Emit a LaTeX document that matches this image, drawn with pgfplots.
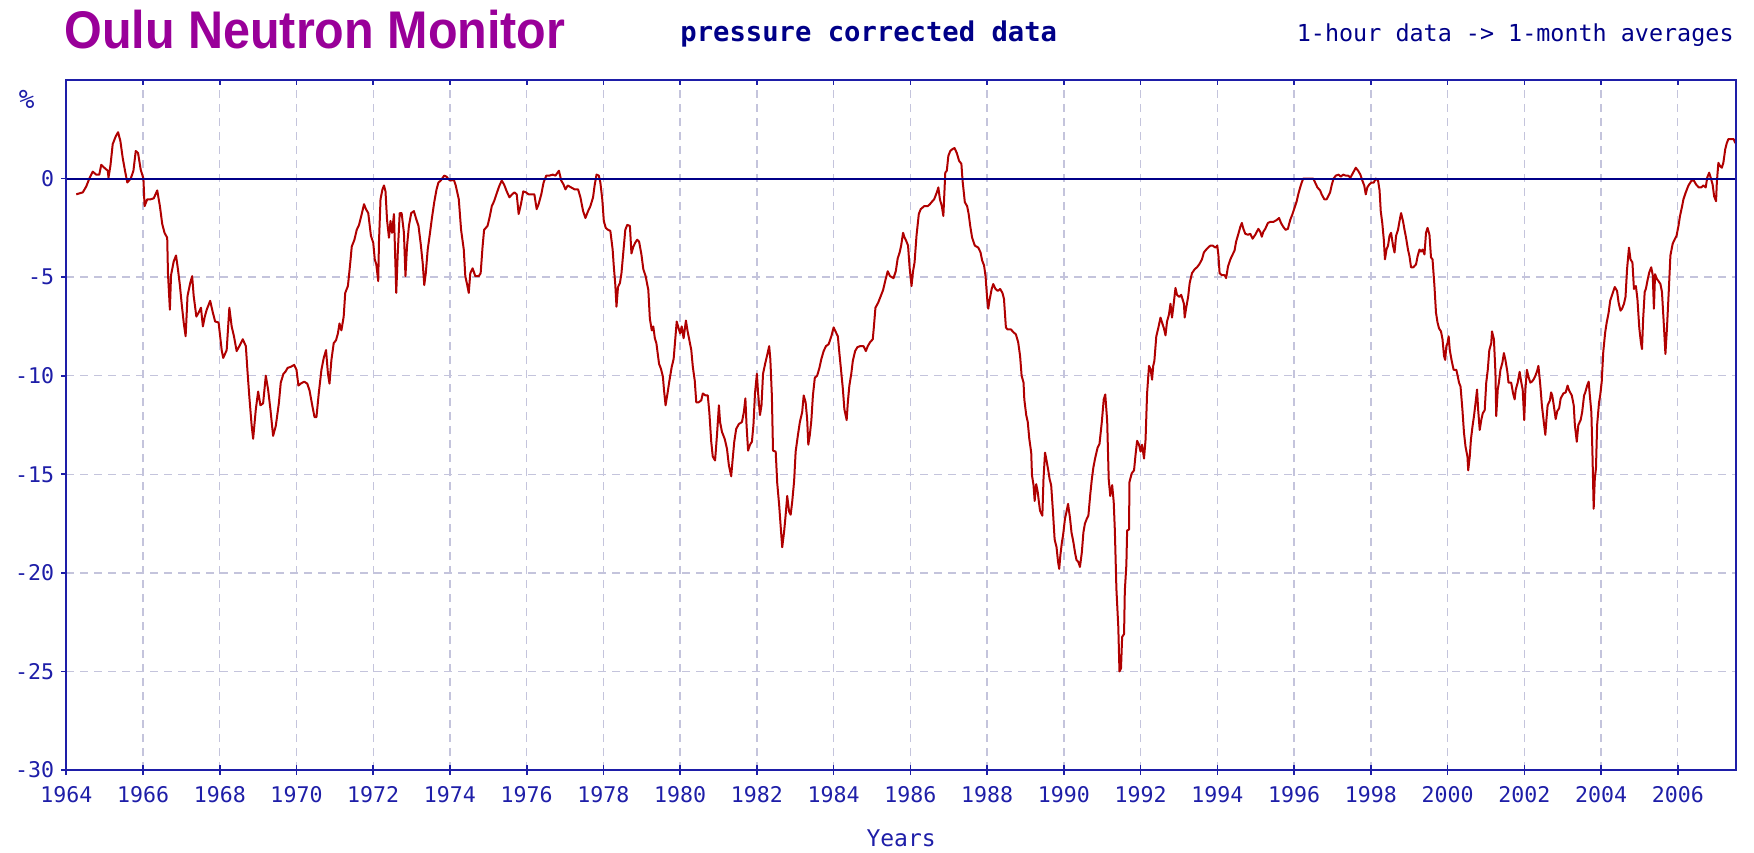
\documentclass[border=0pt]{standalone}
\usepackage{pgfplots}
\pgfplotsset{compat=1.18}
\usepackage{pgfplotstable}
\usepackage{graphicx}
\usepackage{fontspec}
\setmainfont{DejaVu Sans Mono}
\newfontfamily\titlefont{Liberation Sans}
\definecolor{axblue}{HTML}{1E1EA8}
\definecolor{navy}{HTML}{000088}
\definecolor{gridc}{HTML}{C4C4DC}
\definecolor{datared}{HTML}{B00000}
\definecolor{titlec}{HTML}{990099}

\pgfplotstableread{
year val
1964.26 -0.8
1964.34 -0.75
1964.43 -0.7
1964.52 -0.4
1964.60 0.0
1964.69 0.35
1964.78 0.2
1964.86 0.2
1964.91 0.7
1964.99 0.55
1965.08 0.4
1965.10 0.05
1965.15 0.65
1965.21 1.75
1965.29 2.15
1965.35 2.35
1965.41 1.9
1965.47 1.05
1965.53 0.4
1965.59 -0.2
1965.68 0.0
1965.75 0.4
1965.81 1.4
1965.87 1.3
1965.94 0.45
1966.01 0.0
1966.04 -1.4
1966.11 -1.05
1966.20 -1.05
1966.28 -1.0
1966.37 -0.6
1966.44 -1.4
1966.50 -2.3
1966.56 -2.75
1966.63 -3.0
1966.65 -4.8
1966.70 -6.65
1966.73 -4.9
1966.80 -4.2
1966.86 -3.9
1966.91 -4.6
1966.96 -5.4
1967.01 -6.4
1967.06 -7.3
1967.11 -8.0
1967.16 -5.95
1967.23 -5.3
1967.28 -4.95
1967.32 -5.95
1967.39 -7.0
1967.45 -6.8
1967.51 -6.55
1967.56 -7.5
1967.61 -7.0
1967.66 -6.65
1967.75 -6.2
1967.82 -6.8
1967.88 -7.25
1967.97 -7.3
1968.01 -8.0
1968.05 -8.7
1968.09 -9.1
1968.18 -8.7
1968.25 -6.55
1968.31 -7.5
1968.37 -8.0
1968.44 -8.75
1968.51 -8.5
1968.60 -8.15
1968.68 -8.5
1968.72 -9.7
1968.77 -11.05
1968.83 -12.5
1968.87 -13.2
1968.94 -11.7
1969.00 -10.8
1969.06 -11.5
1969.13 -11.4
1969.20 -10.0
1969.26 -10.7
1969.32 -11.7
1969.39 -13.05
1969.46 -12.55
1969.54 -11.4
1969.59 -10.35
1969.66 -9.9
1969.71 -9.8
1969.77 -9.6
1969.85 -9.55
1969.94 -9.45
1970.00 -9.7
1970.05 -10.5
1970.11 -10.4
1970.20 -10.3
1970.28 -10.4
1970.34 -10.75
1970.41 -11.5
1970.47 -12.1
1970.52 -12.1
1970.58 -10.9
1970.65 -9.7
1970.71 -9.1
1970.77 -8.7
1970.82 -9.9
1970.86 -10.4
1970.91 -9.2
1970.97 -8.35
1971.03 -8.2
1971.08 -7.85
1971.12 -7.35
1971.17 -7.7
1971.23 -7.0
1971.27 -5.8
1971.34 -5.45
1971.40 -4.3
1971.44 -3.45
1971.51 -3.1
1971.57 -2.6
1971.63 -2.35
1971.70 -1.8
1971.76 -1.3
1971.81 -1.55
1971.87 -1.75
1971.94 -2.9
1972.00 -3.25
1972.04 -4.1
1972.08 -4.35
1972.13 -5.2
1972.15 -3.2
1972.19 -1.05
1972.24 -0.55
1972.28 -0.35
1972.32 -0.65
1972.36 -2.1
1972.41 -3.0
1972.45 -2.15
1972.49 -2.75
1972.54 -1.8
1972.60 -5.8
1972.64 -3.75
1972.69 -1.75
1972.74 -1.75
1972.80 -2.75
1972.84 -4.95
1972.88 -3.45
1972.93 -2.4
1972.99 -1.75
1973.06 -1.65
1973.12 -2.05
1973.18 -2.4
1973.24 -3.35
1973.29 -4.3
1973.33 -5.4
1973.37 -4.8
1973.42 -3.6
1973.48 -2.75
1973.53 -2.0
1973.59 -1.2
1973.65 -0.55
1973.70 -0.2
1973.76 -0.1
1973.85 0.15
1973.91 0.1
1973.97 -0.05
1974.03 -0.1
1974.10 -0.05
1974.15 -0.35
1974.23 -1.05
1974.29 -2.6
1974.36 -3.6
1974.40 -4.95
1974.45 -5.4
1974.49 -5.8
1974.53 -4.8
1974.59 -4.55
1974.66 -4.95
1974.75 -4.95
1974.80 -4.8
1974.85 -3.45
1974.89 -2.6
1974.98 -2.4
1975.04 -1.9
1975.09 -1.4
1975.15 -1.15
1975.21 -0.8
1975.28 -0.4
1975.35 -0.1
1975.41 -0.3
1975.48 -0.65
1975.55 -0.95
1975.62 -0.8
1975.68 -0.7
1975.74 -0.8
1975.79 -1.8
1975.85 -1.3
1975.91 -0.65
1975.98 -0.7
1976.05 -0.8
1976.14 -0.8
1976.20 -0.8
1976.26 -1.55
1976.31 -1.3
1976.38 -0.8
1976.44 -0.2
1976.51 0.15
1976.59 0.15
1976.68 0.2
1976.75 0.15
1976.84 0.4
1976.90 -0.1
1976.96 -0.3
1977.01 -0.55
1977.07 -0.35
1977.16 -0.45
1977.25 -0.55
1977.34 -0.55
1977.40 -0.95
1977.47 -1.65
1977.53 -2.0
1977.60 -1.65
1977.66 -1.4
1977.73 -0.95
1977.77 -0.35
1977.82 0.2
1977.88 0.15
1977.92 -0.2
1977.97 -1.05
1978.01 -2.15
1978.06 -2.5
1978.12 -2.6
1978.18 -2.65
1978.24 -3.6
1978.27 -4.45
1978.31 -5.4
1978.34 -6.5
1978.38 -5.5
1978.43 -5.3
1978.47 -4.8
1978.52 -3.7
1978.57 -2.6
1978.62 -2.35
1978.69 -2.4
1978.73 -3.8
1978.78 -3.45
1978.83 -3.25
1978.88 -3.1
1978.93 -3.2
1978.99 -3.85
1979.04 -4.6
1979.10 -4.95
1979.17 -5.65
1979.21 -7.1
1979.26 -7.7
1979.30 -7.5
1979.34 -8.1
1979.38 -8.35
1979.45 -9.4
1979.50 -9.65
1979.55 -10.05
1979.58 -10.75
1979.62 -11.5
1979.67 -10.9
1979.72 -10.25
1979.78 -9.55
1979.83 -9.15
1979.87 -8.2
1979.91 -7.25
1979.96 -7.6
1980.00 -7.85
1980.04 -7.5
1980.09 -8.1
1980.15 -7.2
1980.19 -7.7
1980.24 -8.2
1980.29 -8.7
1980.33 -9.55
1980.38 -10.25
1980.42 -11.35
1980.48 -11.35
1980.55 -11.25
1980.59 -10.9
1980.66 -11.0
1980.72 -11.0
1980.76 -11.85
1980.81 -13.35
1980.85 -14.1
1980.91 -14.3
1980.96 -13.0
1981.01 -11.5
1981.04 -12.35
1981.09 -12.85
1981.16 -13.2
1981.22 -13.7
1981.27 -14.55
1981.33 -15.1
1981.37 -14.2
1981.41 -13.35
1981.46 -12.7
1981.53 -12.45
1981.61 -12.35
1981.66 -11.85
1981.70 -11.15
1981.73 -12.5
1981.77 -13.8
1981.82 -13.5
1981.87 -13.35
1981.91 -12.5
1981.95 -10.9
1982.00 -9.9
1982.03 -10.85
1982.08 -12.0
1982.12 -11.5
1982.16 -9.9
1982.22 -9.35
1982.28 -8.85
1982.32 -8.5
1982.35 -9.15
1982.39 -11.0
1982.42 -13.8
1982.49 -13.85
1982.53 -15.45
1982.58 -16.55
1982.62 -17.65
1982.66 -18.7
1982.71 -17.9
1982.75 -17.05
1982.79 -16.1
1982.84 -16.9
1982.88 -17.05
1982.92 -16.4
1982.97 -15.35
1983.01 -13.85
1983.07 -13.0
1983.12 -12.35
1983.18 -11.85
1983.22 -11.0
1983.27 -11.35
1983.31 -12.2
1983.34 -13.5
1983.38 -13.0
1983.42 -12.25
1983.46 -11.0
1983.51 -10.1
1983.57 -10.0
1983.63 -9.6
1983.68 -9.15
1983.74 -8.75
1983.80 -8.5
1983.87 -8.4
1983.94 -8.0
1984.00 -7.55
1984.06 -7.8
1984.11 -8.0
1984.15 -8.85
1984.20 -9.85
1984.24 -10.65
1984.28 -11.7
1984.34 -12.25
1984.37 -11.35
1984.41 -10.5
1984.46 -9.9
1984.50 -9.25
1984.56 -8.75
1984.62 -8.55
1984.69 -8.5
1984.78 -8.5
1984.84 -8.75
1984.89 -8.5
1984.95 -8.3
1985.02 -8.15
1985.05 -7.5
1985.09 -6.55
1985.16 -6.3
1985.23 -5.95
1985.29 -5.65
1985.35 -5.15
1985.41 -4.7
1985.47 -4.95
1985.56 -5.05
1985.62 -4.7
1985.67 -4.05
1985.72 -3.75
1985.76 -3.4
1985.81 -2.75
1985.85 -3.0
1985.89 -3.15
1985.94 -3.4
1985.98 -4.5
1986.03 -5.45
1986.07 -4.7
1986.11 -4.25
1986.16 -2.9
1986.22 -1.8
1986.27 -1.55
1986.36 -1.4
1986.45 -1.4
1986.51 -1.3
1986.55 -1.2
1986.62 -1.05
1986.69 -0.7
1986.73 -0.45
1986.77 -1.05
1986.82 -1.4
1986.86 -1.9
1986.91 0.3
1986.95 0.4
1986.99 1.15
1987.04 1.4
1987.10 1.5
1987.15 1.55
1987.21 1.3
1987.27 0.9
1987.33 0.75
1987.36 -0.1
1987.42 -1.2
1987.48 -1.4
1987.52 -1.8
1987.56 -2.4
1987.61 -3.0
1987.68 -3.4
1987.77 -3.5
1987.83 -3.75
1987.87 -4.15
1987.92 -4.4
1987.96 -4.95
1988.00 -6.05
1988.03 -6.6
1988.07 -6.1
1988.12 -5.6
1988.16 -5.35
1988.22 -5.6
1988.28 -5.7
1988.34 -5.6
1988.40 -5.8
1988.44 -6.1
1988.49 -7.55
1988.53 -7.65
1988.62 -7.65
1988.69 -7.8
1988.75 -7.9
1988.81 -8.3
1988.86 -9.0
1988.90 -10.0
1988.95 -10.35
1988.97 -11.2
1989.02 -12.0
1989.06 -12.35
1989.10 -13.2
1989.15 -13.9
1989.17 -15.05
1989.21 -15.55
1989.24 -16.35
1989.28 -15.5
1989.32 -15.9
1989.35 -16.4
1989.38 -16.85
1989.44 -17.1
1989.47 -15.25
1989.51 -13.9
1989.54 -14.2
1989.59 -14.75
1989.63 -15.25
1989.67 -15.55
1989.72 -17.0
1989.76 -18.3
1989.81 -18.7
1989.85 -19.45
1989.88 -19.8
1989.91 -19.1
1989.95 -18.45
1989.98 -18.1
1990.03 -17.25
1990.07 -16.9
1990.11 -16.5
1990.16 -17.2
1990.20 -17.95
1990.25 -18.45
1990.29 -18.95
1990.33 -19.35
1990.38 -19.45
1990.42 -19.7
1990.47 -18.95
1990.51 -17.95
1990.55 -17.5
1990.60 -17.25
1990.64 -17.1
1990.69 -16.0
1990.73 -15.25
1990.77 -14.65
1990.82 -14.15
1990.88 -13.65
1990.93 -13.45
1990.99 -12.35
1991.04 -11.2
1991.08 -10.95
1991.13 -12.3
1991.17 -15.25
1991.21 -16.1
1991.26 -15.55
1991.30 -16.4
1991.33 -17.85
1991.37 -20.8
1991.42 -22.75
1991.45 -25.0
1991.49 -24.85
1991.52 -23.25
1991.57 -23.1
1991.59 -20.9
1991.63 -19.6
1991.65 -17.85
1991.70 -17.8
1991.71 -15.4
1991.77 -14.95
1991.83 -14.8
1991.87 -14.0
1991.91 -13.3
1991.96 -13.5
1992.00 -13.85
1992.04 -13.5
1992.09 -14.2
1992.13 -13.25
1992.17 -10.9
1992.22 -9.5
1992.26 -9.65
1992.30 -10.2
1992.33 -9.5
1992.36 -9.25
1992.41 -8.0
1992.46 -7.6
1992.52 -7.05
1992.56 -7.3
1992.61 -7.6
1992.65 -7.95
1992.69 -7.25
1992.74 -6.9
1992.78 -6.35
1992.82 -7.05
1992.87 -6.25
1992.91 -5.55
1992.95 -5.9
1993.01 -6.0
1993.06 -5.9
1993.13 -6.35
1993.15 -7.05
1993.19 -6.55
1993.24 -6.0
1993.28 -5.3
1993.34 -4.8
1993.41 -4.6
1993.47 -4.5
1993.53 -4.35
1993.60 -4.1
1993.65 -3.75
1993.69 -3.65
1993.76 -3.5
1993.82 -3.4
1993.88 -3.4
1993.95 -3.5
1994.00 -3.4
1994.03 -3.9
1994.06 -4.8
1994.12 -4.9
1994.19 -4.9
1994.23 -5.05
1994.28 -4.45
1994.34 -4.1
1994.40 -3.85
1994.45 -3.65
1994.49 -3.2
1994.55 -2.8
1994.60 -2.45
1994.64 -2.25
1994.68 -2.55
1994.73 -2.8
1994.80 -2.85
1994.86 -2.8
1994.92 -3.05
1994.99 -2.85
1995.03 -2.7
1995.07 -2.55
1995.12 -2.7
1995.16 -2.95
1995.20 -2.7
1995.25 -2.55
1995.32 -2.25
1995.38 -2.2
1995.46 -2.2
1995.55 -2.1
1995.61 -2.0
1995.66 -2.25
1995.72 -2.45
1995.78 -2.6
1995.84 -2.55
1995.90 -2.1
1995.96 -1.8
1996.01 -1.5
1996.07 -1.15
1996.11 -0.8
1996.16 -0.45
1996.20 -0.2
1996.24 0.0
1996.33 0.0
1996.42 0.0
1996.50 0.0
1996.55 -0.2
1996.61 -0.45
1996.68 -0.6
1996.72 -0.8
1996.79 -1.05
1996.85 -1.05
1996.94 -0.7
1996.98 -0.35
1997.03 0.0
1997.09 0.15
1997.16 0.2
1997.22 0.1
1997.28 0.2
1997.35 0.15
1997.41 0.15
1997.47 0.05
1997.54 0.3
1997.61 0.55
1997.67 0.4
1997.73 0.2
1997.78 -0.1
1997.83 -0.35
1997.87 -0.8
1997.91 -0.45
1997.96 -0.3
1998.02 -0.2
1998.08 -0.2
1998.13 0.0
1998.19 -0.1
1998.23 -0.6
1998.26 -1.65
1998.30 -2.25
1998.34 -3.1
1998.37 -4.1
1998.41 -3.6
1998.45 -3.4
1998.49 -2.9
1998.53 -2.75
1998.58 -3.4
1998.62 -3.75
1998.66 -2.9
1998.71 -2.6
1998.75 -2.15
1998.79 -1.75
1998.84 -2.15
1998.88 -2.6
1998.92 -3.0
1998.97 -3.6
1999.01 -3.95
1999.05 -4.5
1999.11 -4.5
1999.18 -4.35
1999.22 -3.95
1999.27 -3.6
1999.31 -3.7
1999.35 -3.6
1999.40 -3.85
1999.44 -2.75
1999.48 -2.5
1999.53 -2.85
1999.57 -4.0
1999.61 -4.1
1999.66 -5.45
1999.70 -6.8
1999.74 -7.3
1999.78 -7.6
1999.83 -7.75
1999.87 -8.15
1999.91 -9.0
1999.94 -9.2
1999.97 -8.5
2000.00 -8.35
2000.03 -8.0
2000.06 -8.7
2000.11 -9.25
2000.16 -9.7
2000.20 -9.7
2000.23 -9.7
2000.27 -10.05
2000.30 -10.35
2000.34 -10.55
2000.39 -11.75
2000.43 -12.9
2000.47 -13.6
2000.52 -14.1
2000.54 -14.8
2000.58 -14.1
2000.61 -13.25
2000.65 -12.6
2000.69 -12.05
2000.73 -11.4
2000.77 -10.7
2000.80 -11.75
2000.84 -12.75
2000.88 -12.25
2000.92 -11.9
2000.97 -11.75
2001.01 -10.35
2001.05 -9.7
2001.09 -8.7
2001.14 -8.35
2001.16 -7.75
2001.21 -8.15
2001.25 -9.85
2001.27 -12.05
2001.31 -10.7
2001.34 -10.35
2001.38 -9.7
2001.43 -9.35
2001.47 -8.85
2001.51 -9.2
2001.56 -9.8
2001.59 -10.35
2001.66 -10.35
2001.71 -10.9
2001.75 -11.2
2001.78 -10.7
2001.83 -10.35
2001.88 -9.8
2001.92 -10.3
2001.96 -10.7
2002.00 -12.25
2002.03 -10.7
2002.07 -9.7
2002.11 -10.05
2002.16 -10.35
2002.20 -10.3
2002.24 -10.2
2002.28 -10.05
2002.33 -9.8
2002.37 -9.5
2002.42 -10.5
2002.46 -11.5
2002.51 -12.35
2002.55 -13.0
2002.58 -12.2
2002.61 -11.5
2002.67 -11.25
2002.70 -10.85
2002.73 -11.0
2002.77 -11.5
2002.82 -12.2
2002.86 -11.8
2002.91 -11.65
2002.95 -11.15
2003.02 -10.9
2003.08 -10.85
2003.13 -10.5
2003.17 -10.75
2003.24 -11.0
2003.29 -11.5
2003.32 -12.5
2003.37 -13.35
2003.41 -12.5
2003.47 -12.25
2003.51 -11.85
2003.56 -11.0
2003.59 -10.85
2003.64 -10.5
2003.68 -10.3
2003.71 -11.0
2003.75 -11.85
2003.78 -14.1
2003.81 -16.75
2003.84 -15.2
2003.87 -14.7
2003.90 -12.5
2003.95 -11.35
2003.98 -11.0
2004.02 -10.3
2004.06 -8.8
2004.11 -7.8
2004.15 -7.3
2004.20 -6.8
2004.24 -6.2
2004.30 -5.85
2004.36 -5.5
2004.42 -5.7
2004.46 -6.3
2004.51 -6.7
2004.55 -6.6
2004.60 -6.35
2004.64 -6.0
2004.68 -4.6
2004.73 -3.5
2004.77 -4.1
2004.82 -4.25
2004.86 -5.6
2004.91 -5.45
2004.95 -6.1
2005.00 -7.6
2005.04 -8.3
2005.07 -8.65
2005.10 -7.1
2005.14 -5.75
2005.17 -5.6
2005.22 -5.1
2005.26 -4.75
2005.31 -4.5
2005.35 -4.9
2005.38 -6.6
2005.41 -4.85
2005.46 -5.1
2005.50 -5.2
2005.55 -5.35
2005.59 -5.75
2005.64 -7.45
2005.68 -8.9
2005.72 -7.6
2005.77 -5.6
2005.81 -3.9
2005.87 -3.3
2005.93 -3.05
2005.97 -2.9
2006.02 -2.4
2006.06 -1.9
2006.11 -1.45
2006.15 -1.05
2006.21 -0.7
2006.28 -0.35
2006.36 -0.1
2006.42 -0.1
2006.48 -0.3
2006.55 -0.45
2006.61 -0.45
2006.67 -0.35
2006.73 -0.45
2006.77 0.05
2006.82 0.3
2006.86 0.05
2006.91 -0.3
2006.95 -0.9
2007.00 -1.15
2007.02 -0.2
2007.06 0.8
2007.10 0.65
2007.15 0.55
2007.19 0.8
2007.24 1.5
2007.28 1.8
2007.32 2.0
2007.40 2.0
2007.46 2.0
2007.50 1.8
}\nmdata

\begin{document}
\begin{tikzpicture}
\useasboundingbox (0,0) rectangle (877pt,426pt);
\begin{axis}[
  at={(33.15pt,41pt)}, anchor=south west,
  width=834.85pt, height=345pt, scale only axis,
  xmin=1964, xmax=2007.52, ymin=-30, ymax=5,
  xtick={1964,1966,...,2006},
  xticklabels={1964,1966,1968,1970,1972,1974,1976,1978,1980,1982,1984,1986,1988,1990,1992,1994,1996,1998,2000,2002,2004,2006},
  ytick={-30,-25,...,0},
  yticklabels={-30,-25,-20,-15,-10,-5,0},
  xtick pos=left, ytick pos=left,
  tick align=outside,
  major tick length=2.5pt,
  tick style={axblue, line width=0.8pt},
  axis line style={axblue, line width=1pt},
  grid=major,
  major grid style={gridc, line width=0.7pt, dash pattern=on 4pt off 3pt},
  tick label style={font=\fontsize{10.8}{13}\selectfont, text=axblue},
  xticklabel style={yshift=-2pt},
  xlabel={Years},
  xlabel style={font=\fontsize{11.5}{13}\selectfont, text=axblue, at={(axis description cs:0.5,0)}, anchor=center, yshift=-34.25pt},
]
\addplot[datared, line width=1pt, line join=round] table[x=year, y=val] {\nmdata};
\addplot[navy, line width=1pt] coordinates {(1964,0) (2007.52,0)};
\end{axis}
\begin{axis}[
  at={(33.15pt,41pt)}, anchor=south west,
  width=834.85pt, height=345pt, scale only axis,
  xmin=1964, xmax=2007.52, ymin=-30, ymax=5,
  xtick={1964,1966,...,2006}, xticklabels={},
  ytick=\empty,
  xtick pos=both, tick align=inside,
  major tick length=2.5pt,
  tick style={axblue, line width=0.8pt},
  axis line style={axblue, line width=1pt},
]
\end{axis}
\node[anchor=center, text=axblue, font=\fontsize{13}{15}\selectfont] at (13.3pt,376.5pt) {\%};
\node[anchor=base west, inner sep=0pt, text=titlec, font=\titlefont\bfseries\fontsize{26.5}{30}\selectfont] at (32pt,401.5pt) {\scalebox{0.915}[1]{Oulu Neutron Monitor}};
\node[anchor=base west, inner sep=0pt, text=navy, font=\bfseries\fontsize{13.6}{15}\selectfont] at (340pt,405.3pt) {pressure corrected data};
\node[anchor=base east, inner sep=0pt, text=navy, font=\fontsize{11.7}{14}\selectfont] at (867pt,405.3pt) {1-hour data -> 1-month averages};
\end{tikzpicture}
\end{document}
